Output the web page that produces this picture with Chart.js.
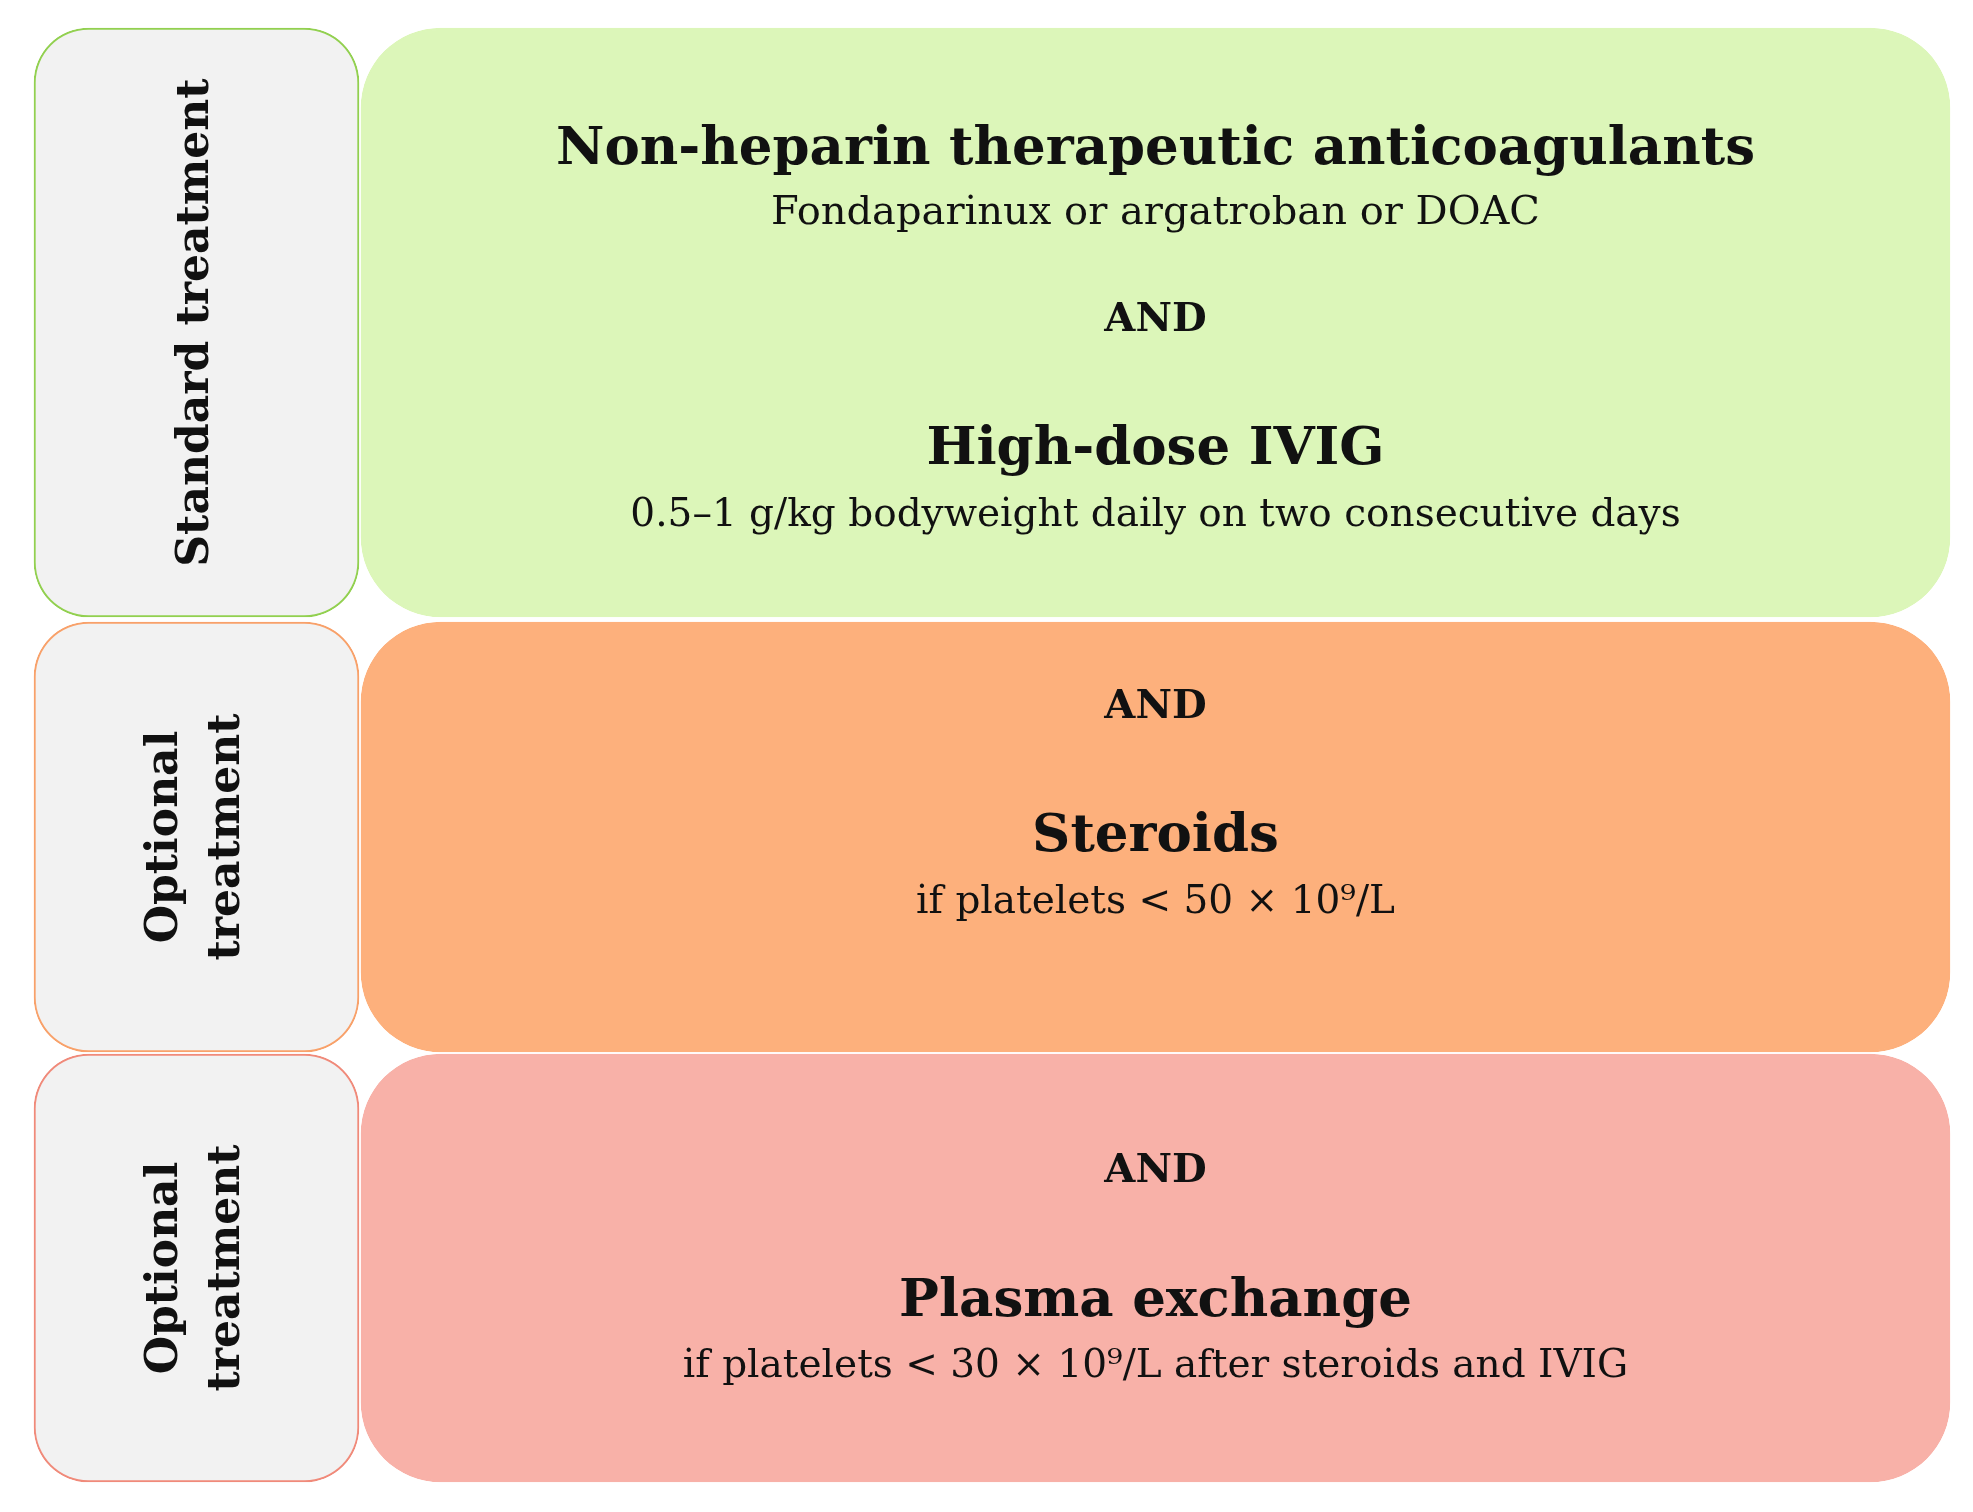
<!DOCTYPE html>
<html>
<head>
<meta charset="utf-8">
<script src="https://cdn.jsdelivr.net/npm/chart.js@4"></script>
<style>
  body { margin: 0; background: #fff; }
  canvas { display: block; }
</style>
</head>
<body>
<canvas id="chart" width="1973" height="1512"></canvas>
<script>
// rows of the treatment scheme
const rowNames = ["Standard treatment", "Optional treatment", "Optional treatment"];
const rowLabelLines = [["Standard treatment"], ["Optional", "treatment"], ["Optional", "treatment"]];
const rowStart = [28, 622, 1054];
const rowEnd = [617, 1052, 1482];
const labelSpan = [34, 359];
const contentSpan = [361, 1950];

const fillColors = ["#dcf6b9", "#fdb07c", "#f8b1a8"];
const edgeColors = ["#92d050", "#f8a16a", "#f08a7a"];
const labelFill = "#f2f2f2";

// texts inside the coloured boxes: [row, kind, text, y]
const boxTexts = [
  [0, "title", "Non-heparin therapeutic anticoagulants", 150],
  [0, "sub", "Fondaparinux or argatroban or DOAC", 214],
  [0, "and", "AND", 321],
  [0, "title", "High-dose IVIG", 450],
  [0, "sub2", "0.5\u20131 g/kg bodyweight daily on two consecutive days", 516],
  [1, "and", "AND", 708],
  [1, "title", "Steroids", 837],
  [1, "sub2", "if platelets < 50 \u00d7 10\u2079/L", 903],
  [2, "and", "AND", 1172],
  [2, "title", "Plasma exchange", 1302],
  [2, "sub2", "if platelets < 30 \u00d7 10\u2079/L after steroids and IVIG", 1367]
];

const fonts = {
  title: "bold 53px 'DejaVu Serif'",
  sub: "40px 'DejaVu Serif'",
  sub2: "39px 'DejaVu Serif'",
  and: "bold 40px 'DejaVu Serif'"
};

const datasets = rowNames.map((name, i) => ({
  label: name,
  data: [
    { x: labelSpan, y: (rowStart[i] + rowEnd[i]) / 2 },
    { x: contentSpan, y: (rowStart[i] + rowEnd[i]) / 2 }
  ],
  backgroundColor: [labelFill, fillColors[i]],
  borderColor: [edgeColors[i], fillColors[i]],
  borderWidth: 2,
  borderSkipped: false,
  borderRadius: [55, 80],
  barThickness: rowEnd[i] - rowStart[i],
  grouped: false
}));

const textPlugin = {
  id: "boxText",
  afterDatasetsDraw(chart) {
    const ctx = chart.ctx;
    const xs = chart.scales.x, ys = chart.scales.y;
    const cx = xs.getPixelForValue((contentSpan[0] + contentSpan[1]) / 2);
    ctx.save();
    ctx.fillStyle = "#111";
    ctx.textAlign = "center";
    ctx.textBaseline = "middle";
    boxTexts.forEach(([row, kind, text, y]) => {
      ctx.font = fonts[kind];
      ctx.fillText(text, cx, ys.getPixelForValue(y));
    });
    // rotated row labels
    const lx = xs.getPixelForValue((labelSpan[0] + labelSpan[1]) / 2);
    ctx.font = "bold 44px 'DejaVu Serif'";
    rowLabelLines.forEach((lines, i) => {
      const cy = ys.getPixelForValue((rowStart[i] + rowEnd[i]) / 2);
      ctx.save();
      ctx.translate(lx, cy);
      ctx.rotate(-Math.PI / 2);
      const gap = 62;
      lines.forEach((ln, j) => {
        ctx.fillText(ln, 0, (j - (lines.length - 1) / 2) * gap);
      });
      ctx.restore();
    });
    ctx.restore();
  }
};

new Chart(document.getElementById("chart"), {
  type: "bar",
  data: { datasets },
  options: {
    indexAxis: "y",
    responsive: false,
    animation: false,
    layout: { padding: 0 },
    plugins: { legend: { display: false }, tooltip: { enabled: false } },
    scales: {
      x: { type: "linear", min: 0, max: 1973, display: false, offset: false },
      y: { type: "linear", min: 0, max: 1512, reverse: true, display: false, offset: false }
    }
  },
  plugins: [textPlugin]
});
</script>
</body>
</html>
